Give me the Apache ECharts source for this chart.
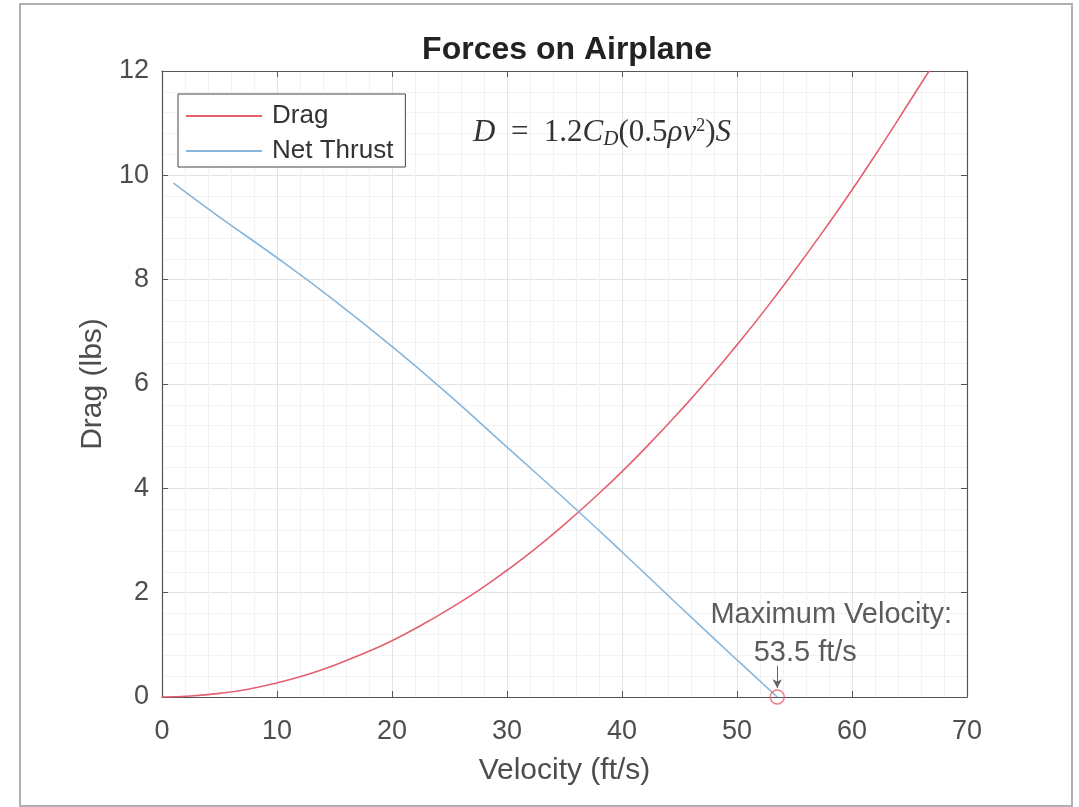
<!DOCTYPE html>
<html>
<head>
<meta charset="utf-8">
<script src="https://cdn.jsdelivr.net/npm/echarts@6/dist/echarts.min.js"></script>
<style>
html,body{margin:0;padding:0;background:#fff;}
#chart{width:1079px;height:807px;}
</style>
</head>
<body>
<div id="chart"></div>
<script>
// Data
const dragVelocity = [0, 2.5, 5, 7.5, 10, 12.5, 15, 17.5, 20, 22.5, 25, 27.5, 30, 32.5, 35, 37.5, 40, 42.5, 45, 47.5, 50, 52.5, 55, 57.5, 60, 62.5, 65, 66.7];
const dragValues   = [0, 0.02, 0.07, 0.15, 0.27, 0.42, 0.61, 0.83, 1.08, 1.37, 1.69, 2.04, 2.43, 2.85, 3.31, 3.80, 4.32, 4.88, 5.47, 6.09, 6.75, 7.44, 8.17, 8.93, 9.72, 10.55, 11.41, 12.0];
const thrustVelocity = [1, 5, 10, 15, 20, 25, 30, 35, 40, 45, 50, 53.5];
const thrustValues   = [9.85, 9.2, 8.42, 7.6, 6.72, 5.78, 4.79, 3.8, 2.78, 1.74, 0.71, 0];
const maxVelocity = [53.5, 0];
const arrowStart = [53.5, 0.6];
const arrowEnd = [53.5, 0.17];
const xTicks = {min: 0, max: 70, interval: 10};
const yTicks = {min: 0, max: 12, interval: 2};

const zip = (a, b) => a.map((v, i) => [v, b[i]]);

const FONT = '"Liberation Sans", Arial, sans-serif';
const SERIF = '"Liberation Serif", "DejaVu Serif", serif';
const TXT = '#4d4d4d';
const AX = '#555';
const RED = '#e4606e';
const BLUE = '#86b6dc';

const chart = echarts.init(document.getElementById('chart'));
const axisCommon = {
  axisLine: {show: true, onZero: false, lineStyle: {color: AX, width: 1.2}},
  axisTick: {show: true, inside: true, length: 6, lineStyle: {color: AX}},
  minorTick: {show: false, splitNumber: 5}
};
chart.setOption({
  animation: false,
  backgroundColor: '#fff',
  title: {
    text: 'Forces on Airplane',
    left: 562, top: 29, textAlign: 'center',
    textStyle: {fontFamily: FONT, fontSize: 32, fontWeight: 'bold', color: '#222'}
  },
  legend: {
    orient: 'vertical', left: 178, top: 94,
    padding: [9, 12, 3, 8], itemGap: 9,
    itemWidth: 76, itemHeight: 2,
    backgroundColor: '#fff', borderColor: '#444', borderWidth: 1,
    icon: 'rect',
    textStyle: {fontFamily: FONT, fontSize: 26, lineHeight: 26, color: '#333', padding: [0, 0, 0, 5]},
    data: ['Drag', 'Net Thrust']
  },
  grid: {left: 162, right: 112, top: 71, bottom: 110, containLabel: false},
  xAxis: [
    Object.assign({
      type: 'value', position: 'bottom',
      min: xTicks.min, max: xTicks.max, interval: xTicks.interval,
      name: 'Velocity (ft/s)', nameLocation: 'middle', nameGap: 74,
      nameTextStyle: {fontFamily: FONT, fontSize: 30, color: TXT, verticalAlign: 'middle'},
      axisLabel: {fontFamily: FONT, fontSize: 27, color: TXT, margin: 21},
      splitLine: {show: true, lineStyle: {color: '#e3e3e3', width: 1}},
      minorSplitLine: {show: true, lineStyle: {color: '#f2f2f2', width: 1}}
    }, axisCommon),
    Object.assign({
      type: 'value', position: 'top',
      min: xTicks.min, max: xTicks.max, interval: xTicks.interval,
      axisLabel: {show: false}, splitLine: {show: false}
    }, axisCommon)
  ],
  yAxis: [
    Object.assign({
      type: 'value', position: 'left',
      min: yTicks.min, max: yTicks.max, interval: yTicks.interval,
      name: 'Drag (lbs)', nameLocation: 'middle', nameGap: 68,
      nameTextStyle: {fontFamily: FONT, fontSize: 30, color: TXT, verticalAlign: 'middle'},
      axisLabel: {fontFamily: FONT, fontSize: 27, color: TXT, margin: 13},
      splitLine: {show: true, lineStyle: {color: '#e3e3e3', width: 1}},
      minorSplitLine: {show: true, lineStyle: {color: '#f2f2f2', width: 1}}
    }, axisCommon),
    Object.assign({
      type: 'value', position: 'right',
      min: yTicks.min, max: yTicks.max, interval: yTicks.interval,
      axisLabel: {show: false}, splitLine: {show: false}
    }, axisCommon)
  ],
  graphic: [
    {
      type: 'rect', silent: true, z: -10,
      shape: {x: 20, y: 4, width: 1052, height: 802},
      style: {fill: 'none', stroke: '#b0b0b0', lineWidth: 2}
    },
    {
      type: 'text', left: 473, top: 117, z: 20,
      style: {
        text: '{i|D}{n|  =  1.2}{i|C}{sub|D}{n|(0.5}{i|ρv}{sup|2}{n|)}{i|S}',
        rich: {
          i: {fontFamily: SERIF, fontStyle: 'italic', fontSize: 31, fill: '#333'},
          n: {fontFamily: SERIF, fontSize: 31, fill: '#333'},
          sub: {fontFamily: SERIF, fontStyle: 'italic', fontSize: 21, fill: '#333', padding: [12, 0, 0, 0]},
          sup: {fontFamily: SERIF, fontSize: 18, fill: '#333', padding: [0, 0, 14, 0]}
        }
      }
    }
  ],
  series: [
    {
      name: 'Drag', type: 'line', smooth: true, showSymbol: false,
      data: zip(dragVelocity, dragValues),
      lineStyle: {color: RED, width: 1.6}, itemStyle: {color: RED}, z: 3
    },
    {
      name: 'Net Thrust', type: 'line', smooth: true, showSymbol: false,
      data: zip(thrustVelocity, thrustValues),
      lineStyle: {color: BLUE, width: 1.6}, itemStyle: {color: BLUE}, z: 3,
      markLine: {
        silent: true, symbol: ['none', 'arrow'], symbolSize: [7, 9],
        lineStyle: {color: '#666', width: 1, type: 'solid'},
        label: {show: false},
        data: [[{coord: arrowStart}, {coord: arrowEnd}]]
      }
    },
    {
      name: 'Max', type: 'scatter', symbol: 'circle', symbolSize: 14,
      data: [maxVelocity],
      itemStyle: {color: 'rgba(0,0,0,0)', borderColor: RED, borderWidth: 1.5},
      label: {
        show: true, position: 'top', distance: 0, offset: [54, -60],
        formatter: 'Maximum Velocity:', align: 'center',
        fontFamily: FONT, fontSize: 29, color: '#333'
      },
      z: 5
    },
    {
      name: 'MaxValue', type: 'scatter', symbol: 'circle', symbolSize: 2,
      data: [maxVelocity],
      itemStyle: {color: 'rgba(0,0,0,0)', borderWidth: 0},
      label: {
        show: true, position: 'top', distance: 0, offset: [28, -29],
        formatter: '53.5 ft/s', align: 'center',
        fontFamily: FONT, fontSize: 29, color: '#333'
      },
      z: 5
    }
  ]
});
</script>
</body>
</html>
